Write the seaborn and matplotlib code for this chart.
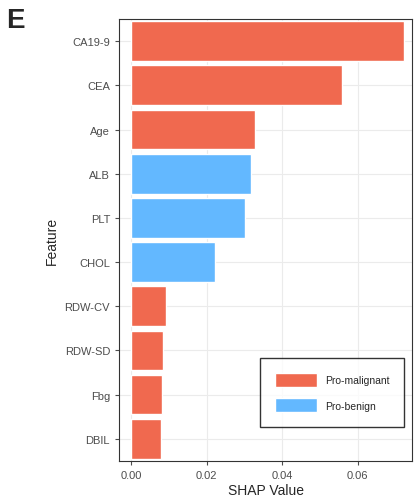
import matplotlib
matplotlib.use("Agg")
import matplotlib.pyplot as plt
import seaborn as sns
import pandas as pd

features = ["CA19-9", "CEA", "Age", "ALB", "PLT", "CHOL", "RDW-CV", "RDW-SD", "Fbg", "DBIL"]
shap_values = [0.0723, 0.0559, 0.0329, 0.0318, 0.0302, 0.0222, 0.0093, 0.0085, 0.0082, 0.0080]
direction = ["Pro-malignant", "Pro-malignant", "Pro-malignant", "Pro-benign", "Pro-benign",
             "Pro-benign", "Pro-malignant", "Pro-malignant", "Pro-malignant", "Pro-malignant"]
palette = {"Pro-malignant": "#F0694F", "Pro-benign": "#63B8FF"}

df = pd.DataFrame({"Feature": features, "SHAP": shap_values, "Direction": direction})

sns.set_style("white")
plt.rcParams['font.family'] = ['Liberation Sans', 'DejaVu Sans']
fig = plt.figure(figsize=(4.15, 5.02), dpi=100)
ax = fig.add_axes([0.287, 0.08, 0.706, 0.88])
sns.barplot(data=df, x="SHAP", y="Feature", hue="Direction", palette=palette,
            dodge=False, width=0.9, ax=ax, order=features, saturation=1,
            hue_order=["Pro-malignant", "Pro-benign"])
ax.set_xlim(-0.0032, 0.0744)
ax.set_xticks([0, 0.02, 0.04, 0.06])
ax.set_xticklabels(["0.00", "0.02", "0.04", "0.06"])
ax.grid(True, color="#EBEBEB", linewidth=0.8)
ax.set_axisbelow(True)
for s in ax.spines.values():
    s.set_color("#333333"); s.set_linewidth(0.8)
ax.tick_params(axis="both", colors="#4D4D4D", labelsize=8, length=3, left=True, bottom=True)
ax.set_xlabel("SHAP Value", fontsize=10, labelpad=2)
ax.set_ylabel("Feature", fontsize=10)
leg = ax.legend(loc="lower right", bbox_to_anchor=(0.99, 0.065), frameon=True, fontsize=7.5,
                title=None, handlelength=4, handleheight=1.7, borderpad=1.4,
                labelspacing=1.1, fancybox=False)
leg.get_frame().set_edgecolor("black")
leg.get_frame().set_linewidth(1)
fig.text(0.015, 0.985, "E", fontsize=20, fontweight="bold", va="top", ha="left")
fig.savefig("out.png", dpi=100)
